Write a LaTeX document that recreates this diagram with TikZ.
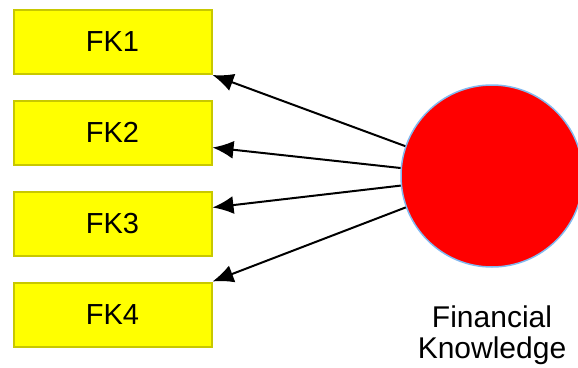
\documentclass[tikz,border=0pt]{standalone}
\usepackage{fontspec}
\setmainfont{Liberation Sans}
\usetikzlibrary{arrows.meta}
\definecolor{boxfill}{RGB}{255,255,0}
\definecolor{boxline}{RGB}{200,200,0}
\definecolor{circfill}{RGB}{255,0,0}
\definecolor{circline}{RGB}{130,185,240}
\begin{document}
\begin{tikzpicture}[x=1pt,y=1pt,
  fkbox/.style={draw=boxline,line width=2pt,fill=boxfill,minimum width=198pt,minimum height=64pt,inner sep=0pt,font=\fontsize{29}{34}\selectfont},
  latent/.style={circle,draw=circline,line width=1.5pt,fill=circfill,minimum size=182pt,inner sep=0pt},
  conn/.style={line width=2pt,-{Latex[length=21pt,width=18pt]}}]
\useasboundingbox (0,0) rectangle (578,-367);
\node[fkbox] (fk1) at (112.5,-42) {FK1};
\node[fkbox] (fk2) at (112.5,-132.5) {FK2};
\node[fkbox] (fk3) at (112.5,-223.5) {FK3};
\node[fkbox] (fk4) at (112.5,-314.5) {FK4};
\node[latent] (fk) at (492,-176) {};
\node[font=\fontsize{30}{31}\selectfont,align=center,anchor=base] (lbl) at (492,-358) {Financial\\Knowledge};
\draw[conn] (fk.161) -- (fk1.south east);
\draw[conn] (fk.175) -- ([yshift=-15pt]fk2.east);
\draw[conn] (fk.186) -- ([yshift=16pt]fk3.east);
\draw[conn] (fk.200) -- (fk4.north east);
\end{tikzpicture}
\end{document}
